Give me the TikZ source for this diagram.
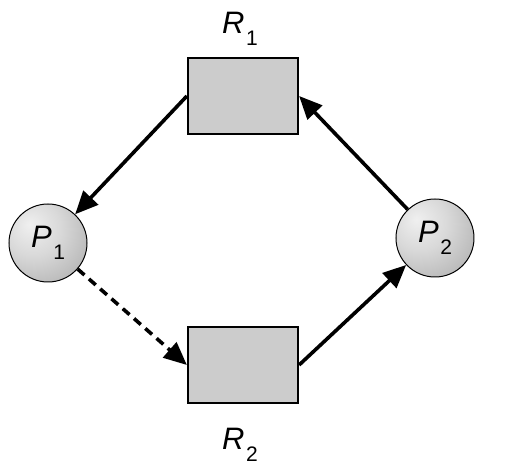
\documentclass[tikz,border=0pt]{standalone}
\usepackage{fontspec}
\setmainfont{Liberation Sans}
\usetikzlibrary{arrows.meta,positioning}

\pgfdeclareradialshading{sphere}{\pgfpoint{-12bp}{12bp}}{color(0bp)=(black!6); color(18bp)=(black!15); color(40bp)=(black!30); color(58bp)=(black!45); color(100bp)=(black!45)}
\newcommand{\sublabel}[2]{\textit{#1}\kern0.8pt\raisebox{-6pt}{\fontsize{10.5}{12}\selectfont #2}}

\begin{document}
\begin{tikzpicture}[
  x=0.5pt, y=-0.5pt,
  res/.style={draw, line width=1.1pt, fill=black!20, minimum width=55pt,
              minimum height=38pt, inner sep=0pt},
  proc/.style={circle, draw, line width=0.5pt, shading=sphere,
               minimum size=39pt, inner sep=0pt, font=\fontsize{15.5}{18}\selectfont},
  lab/.style={inner sep=0pt, font=\fontsize{15.5}{18}\selectfont},
  arr/.style={-{Triangle[length=11.5pt, width=10pt]}, line width=1.8pt}
]
\useasboundingbox (0,0) rectangle (511,466);

\node[res] (r1) at (243,96) {};
\node[res] (r2) at (243,365) {};
\node[proc] (p1) at (48,243) {\sublabel{P}{1}};
\node[proc] (p2) at (435,238) {\sublabel{P}{2}};

\node[lab, above=5.5pt of r1, xshift=-1.5pt] (r1lab) {\sublabel{R}{1}};
\node[lab, below=12pt of r2, xshift=-1.5pt] (r2lab) {\sublabel{R}{2}};

\draw[arr] (r1.west) -- (p1);
\draw[arr, dash pattern=on 4.5pt off 3pt] (p1) -- (r2.west);
\draw[arr] (r2.east) -- (p2);
\draw[arr] (p2) -- (r1.east);
\end{tikzpicture}
\end{document}
